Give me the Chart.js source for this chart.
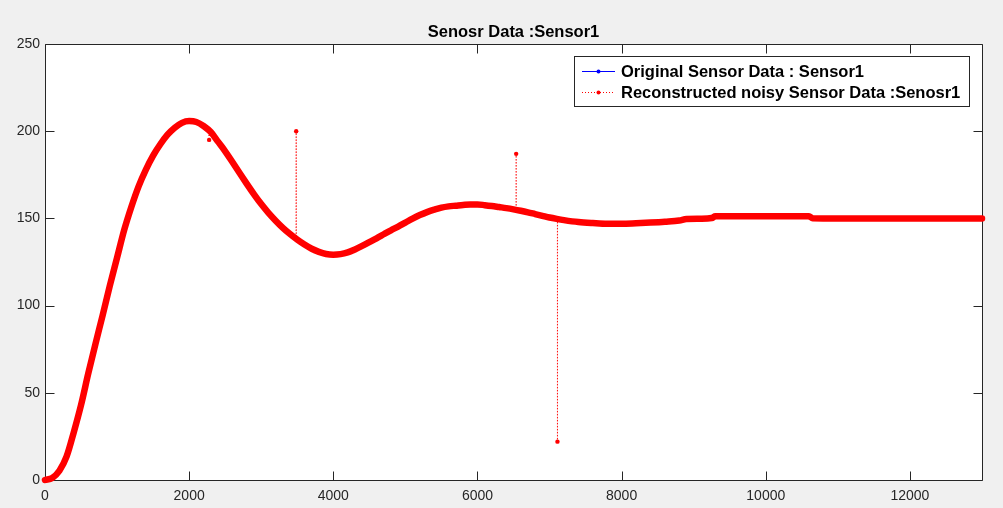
<!DOCTYPE html>
<html>
<head>
<meta charset="utf-8">
<script src="https://cdn.jsdelivr.net/npm/chart.js@4.4.0/dist/chart.umd.min.js"></script>
<style>
html,body{margin:0;padding:0;background:#f0f0f0;overflow:hidden}
#wrap{width:1003px;height:508px}
</style>
</head>
<body>
<div id="wrap"><canvas id="c" width="1003" height="508"></canvas></div>
<script>
// ---- data ----
const chartTitle = 'Senosr Data :Sensor1';
const originalLabel = 'Original Sensor Data : Sensor1';
const reconstructedLabel = 'Reconstructed noisy Sensor Data :Senosr1';

const xTickValues = [0, 2000, 4000, 6000, 8000, 10000, 12000];
const yTickValues = [0, 50, 100, 150, 200, 250];

const sampleTimes = [
  0,100,200,300,400,500,600,700,800,900,
  1000,1100,1200,1300,1400,1500,1600,1700,1800,1900,
  2000,2100,2200,2300,2400,2500,2600,2700,2800,2900,
  3000,3100,3200,3300,3400,3500,3600,3700,3800,3900,
  4000,4100,4200,4300,4400,4500,4600,4700,4800,4900,
  5000,5100,5200,5300,5400,5500,5600,5700,5800,5900,
  6000,6100,6200,6300,6400,6500,6600,6700,6800,6900,
  7000,7100,7200,7400,7600,7800,8000,8200,8400,8600,
  8800,8900,9100,9250,9300,9600,10000,10400,10600,10650,
  11000,11500,12000,12500,13000
];
const sensorValues = [
  0,1.2,5.3,13.5,27.5,43,61,78,94.5,111.5,
  127.5,143.5,156.8,168.5,178,186,192.5,198,202,204.8,
  205.8,205.3,203,199.5,194,188.5,182.3,176,169.8,163.8,
  158.2,153.2,148.7,144.6,141,137.8,135,132.6,130.8,129.6,
  129.2,129.5,130.5,132.2,134.2,136.4,138.6,140.9,143.2,145.3,
  147.6,149.9,151.9,153.6,155,156.2,156.9,157.3,157.7,158,
  158,157.6,157.1,156.5,155.9,155.2,154.4,153.5,152.5,151.5,
  150.5,149.7,149,147.9,147.3,146.9,146.9,147.2,147.6,148.1,
  148.8,149.7,149.8,150.2,151.2,151.2,151.2,151.2,151.2,150.1,
  150,150,150,150,150
];

// noisy samples in the reconstructed series
const spikeTimes = [2277, 3485, 6537, 7110];
const spikeValues = [195, 200, 187, 22];
const spikeBaseValues = [200.5, 138.3, 154.9, 149.6]; // curve value right beside each spike

// ---- build datasets ----
const originalPoints = sampleTimes.map((t, i) => ({x: t, y: sensorValues[i]}));
const reconstructedPoints = originalPoints.slice();
spikeTimes.forEach((t, i) => {
  reconstructedPoints.push({x: t - 1, y: spikeBaseValues[i]});
  reconstructedPoints.push({x: t, y: spikeValues[i]});
  reconstructedPoints.push({x: t + 1, y: spikeBaseValues[i]});
});
reconstructedPoints.sort((a, b) => a.x - b.x);

const AXIS = '#262626';
const FONT = "'Liberation Sans', Arial, Helvetica, sans-serif";

const frame = {
  id: 'frame',
  beforeDraw(chart) {
    const {ctx, chartArea: a} = chart;
    ctx.save();
    ctx.fillStyle = '#f0f0f0';
    ctx.fillRect(0, 0, chart.width, chart.height);
    ctx.fillStyle = '#ffffff';
    ctx.fillRect(a.left, a.top, a.right - a.left, a.bottom - a.top);
    ctx.restore();
  },
  beforeDatasetsDraw(chart) {
    const {ctx, chartArea: a, scales: {x, y}} = chart;
    const L = Math.round(a.left) + 0.5, R = Math.round(a.right) + 0.5;
    const T = Math.round(a.top) + 0.5, B = Math.round(a.bottom) + 0.5;
    ctx.save();
    ctx.strokeStyle = AXIS;
    ctx.lineWidth = 1;
    ctx.beginPath();
    ctx.rect(L, T, R - L, B - T);
    const tl = 9;
    xTickValues.forEach(v => {
      const p = Math.round(x.getPixelForValue(v)) + 0.5;
      ctx.moveTo(p, B); ctx.lineTo(p, B - tl);
      ctx.moveTo(p, T); ctx.lineTo(p, T + tl);
    });
    yTickValues.forEach(v => {
      const p = Math.round(y.getPixelForValue(v)) + 0.5;
      ctx.moveTo(L, p); ctx.lineTo(L + tl, p);
      ctx.moveTo(R, p); ctx.lineTo(R - tl, p);
    });
    ctx.stroke();
    ctx.restore();
  },
  afterDraw(chart) {
    const ctx = chart.ctx;
    const bx = 574.5, by = 56.5, bw = 395, bh = 50;
    ctx.save();
    ctx.fillStyle = '#ffffff';
    ctx.fillRect(bx, by, bw, bh);
    ctx.strokeStyle = AXIS;
    ctx.lineWidth = 1;
    ctx.strokeRect(bx, by, bw, bh);
    const items = chart.data.datasets.filter(d => d.showInLegend);
    items.forEach((d, i) => {
      const yy = 71.5 + i * 21;
      ctx.strokeStyle = d.borderColor;
      ctx.lineWidth = 1;
      ctx.setLineDash(d.borderDash || []);
      ctx.beginPath();
      ctx.moveTo(582, yy); ctx.lineTo(615, yy);
      ctx.stroke();
      ctx.setLineDash([]);
      ctx.fillStyle = d.borderColor;
      ctx.beginPath();
      ctx.arc(598.5, yy, 2, 0, Math.PI * 2);
      ctx.fill();
      ctx.fillStyle = '#000000';
      ctx.font = 'bold 16.5px ' + FONT;
      ctx.textBaseline = 'middle';
      ctx.textAlign = 'left';
      ctx.fillText(d.label, 621, yy + 0.5);
    });
    ctx.restore();
  }
};

new Chart(document.getElementById('c'), {
  type: 'line',
  data: {
    datasets: [
      {
        label: originalLabel, showInLegend: true,
        data: originalPoints, borderColor: '#0000ff', backgroundColor: '#0000ff',
        borderWidth: 1, pointRadius: 0, order: 3, clip: false,
        cubicInterpolationMode: 'monotone'
      },
      {
        label: '', showInLegend: false,
        data: originalPoints, borderColor: '#ff0000', backgroundColor: '#ff0000',
        borderWidth: 6.5, borderCapStyle: 'round', borderJoinStyle: 'round',
        pointRadius: 0, order: 2, clip: false,
        cubicInterpolationMode: 'monotone'
      },
      {
        label: reconstructedLabel, showInLegend: true,
        data: reconstructedPoints, borderColor: '#ff0000', backgroundColor: '#ff0000',
        borderWidth: 1, borderDash: [1, 2], pointRadius: 2.2, pointBorderWidth: 0,
        pointHoverRadius: 0, order: 1, clip: false
      }
    ]
  },
  options: {
    responsive: false,
    animation: false,
    events: [],
    layout: {padding: {left: 0, right: 21, top: 0, bottom: 0}},
    plugins: {
      legend: {display: false},
      tooltip: {enabled: false},
      title: {
        display: true, text: chartTitle, color: '#000000', fullSize: false,
        font: {family: FONT, size: 16.5, weight: 'bold'},
        padding: {top: 22.8, bottom: 1.4}
      }
    },
    scales: {
      x: {
        type: 'linear', min: 0, max: 13000,
        afterBuildTicks: s => { s.ticks = xTickValues.map(v => ({value: v})); },
        afterFit: s => { s.height = 28; },
        grid: {display: false, drawTicks: false},
        border: {display: false},
        ticks: {color: AXIS, font: {family: FONT, size: 14}, padding: 8, maxRotation: 0, autoSkip: false,
                callback: v => String(v)}
      },
      y: {
        type: 'linear', min: 0, max: 250,
        afterBuildTicks: s => { s.ticks = yTickValues.map(v => ({value: v})); },
        afterFit: s => { s.width = 45; },
        grid: {display: false, drawTicks: false},
        border: {display: false},
        ticks: {color: AXIS, font: {family: FONT, size: 14}, padding: 5, autoSkip: false,
                callback: v => String(v)}
      }
    }
  },
  plugins: [frame]
});
</script>
</body>
</html>
